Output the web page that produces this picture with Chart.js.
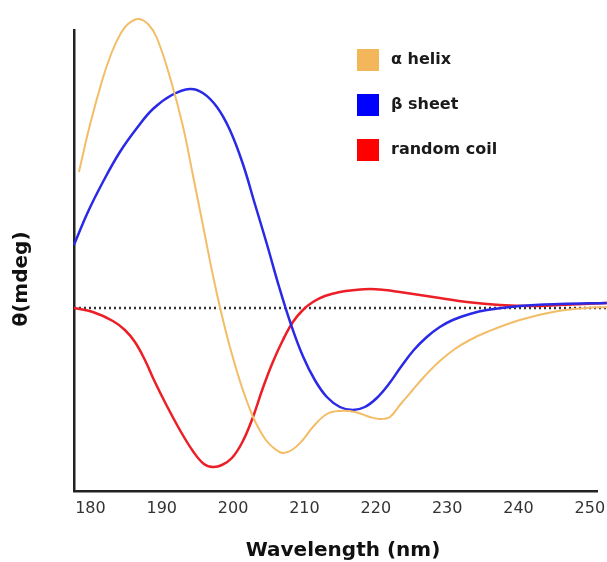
<!DOCTYPE html>
<html>
<head>
<meta charset="utf-8">
<script src="https://cdn.jsdelivr.net/npm/chart.js@4.4.1/dist/chart.umd.min.js"></script>
<style>
  html, body { margin: 0; padding: 0; background: #fff; }
  #contenedor { width: 607px; height: 562px; }
</style>
</head>
<body>
<div id="contenedor"><canvas id="cdChart"></canvas></div>
<script>
// espectros de dicroismo circular (unidades arbitrarias)
var nombres = ["α helix", "β sheet", "random coil"];
var ticksX = [180, 190, 200, 210, 220, 230, 240, 250];

var helixNm = [178.39, 179.93, 181.75, 183.01, 184.13, 185.26, 186.80, 188.20, 189.32, 191.14, 192.96, 194.36, 195.76, 197.16, 198.28, 199.55, 200.95, 202.07, 203.19, 204.59, 205.86, 206.98, 208.24, 209.64, 211.18, 213.14, 214.96, 217.07, 219.17, 220.57, 221.97, 223.37, 225.05, 226.87, 228.97, 231.08, 233.18, 235.56, 240.18, 244.81, 249.57, 252.38];
var helixTheta = [13.6, 18.3, 23.0, 25.6, 27.3, 28.4, 28.9, 28.3, 27.0, 23.1, 18.2, 13.3, 8.3, 3.3, -0.3, -3.9, -7.3, -9.6, -11.5, -13.2, -14.1, -14.5, -14.2, -13.3, -11.9, -10.6, -10.3, -10.4, -10.9, -11.1, -10.9, -9.7, -8.3, -6.8, -5.3, -4.1, -3.2, -2.4, -1.2, -0.4, 0.0, 0.1];

var sheetNm = [177.69, 179.65, 181.75, 184.13, 186.52, 188.76, 191.42, 193.94, 195.76, 197.73, 199.55, 201.37, 203.05, 204.73, 206.41, 208.09, 209.77, 211.45, 213.14, 214.96, 216.78, 218.46, 220.14, 221.83, 223.51, 225.33, 227.15, 228.97, 230.79, 233.18, 235.56, 240.18, 245.79, 252.38];
var sheetTheta = [6.3, 9.6, 12.6, 15.6, 18.0, 19.9, 21.3, 21.9, 21.5, 20.1, 17.8, 14.4, 10.4, 6.4, 2.2, -1.6, -4.8, -7.2, -8.9, -9.9, -10.2, -9.9, -9.0, -7.6, -5.9, -4.2, -2.9, -1.9, -1.2, -0.6, -0.2, 0.2, 0.4, 0.5];

var coilNm = [177.69, 180.35, 183.15, 184.83, 186.24, 187.64, 189.04, 190.72, 192.54, 194.36, 195.91, 197.17, 198.43, 199.83, 201.23, 202.63, 204.17, 205.57, 206.98, 208.38, 209.78, 211.18, 212.86, 214.96, 217.07, 219.17, 221.27, 223.37, 226.17, 228.97, 232.76, 237.38, 242.01, 245.79, 252.38];
var coilTheta = [0.0, -0.4, -1.3, -2.2, -3.4, -5.2, -7.4, -9.8, -12.2, -14.3, -15.6, -15.9, -15.7, -15.0, -13.5, -11.2, -8.0, -5.4, -3.2, -1.4, -0.2, 0.6, 1.2, 1.6, 1.8, 1.9, 1.8, 1.6, 1.3, 1.0, 0.6, 0.3, 0.2, 0.3, 0.5];

var ceroNm = [177.7, 252.4];
var ceroTheta = [0, 0];

var coloresLinea = ["#F3BD68", "#2A2AE6", "#EC1E26"];
var coloresCaja = ["#F3B65B", "#0000FF", "#FF0000"];

function puntos(xs, ys) {
    return xs.map(function(x, i) { return { x: x, y: ys[i] }; });
}

var series = [
    { label: nombres[0], data: puntos(helixNm, helixTheta), borderColor: coloresLinea[0], borderWidth: 2, tension: 0.4 },
    { label: nombres[1], data: puntos(sheetNm, sheetTheta), borderColor: coloresLinea[1], borderWidth: 2.5, tension: 0.4 },
    { label: nombres[2], data: puntos(coilNm, coilTheta), borderColor: coloresLinea[2], borderWidth: 2.5, tension: 0.4 },
    { label: "cero", data: puntos(ceroNm, ceroTheta), borderColor: "#333", borderWidth: 2.5, borderDash: [2, 3], tension: 0 }
];
series.forEach(function(s) {
    s.pointRadius = 0;
    s.fill = false;
    s.clip = false;
});

// leyenda dentro del area del grafico
var leyendaPlugin = {
    id: "leyenda",
    afterDatasetsDraw: function(chart) {
        var ctx = chart.ctx;
        ctx.save();
        ctx.font = "bold 16px 'DejaVu Sans'";
        ctx.textBaseline = "middle";
        for (var i = 0; i < 3; i++) {
            var y = 60 + i * 45;
            ctx.fillStyle = coloresCaja[i];
            ctx.fillRect(357, y - 11, 22, 22);
            ctx.fillStyle = "#1a1a1a";
            ctx.fillText(chart.data.datasets[i].label, 391, y);
        }
        ctx.restore();
    }
};

var titulosPlugin = {
    id: "titulos",
    afterDraw: function(chart) {
        var ctx = chart.ctx;
        ctx.save();
        ctx.fillStyle = "#111";
        ctx.font = "bold 20px 'DejaVu Sans'";
        ctx.textAlign = "center";
        ctx.textBaseline = "middle";
        ctx.fillText("Wavelength (nm)", 343, 551);
        ctx.translate(22, 279);
        ctx.rotate(-Math.PI / 2);
        ctx.fillText("θ(mdeg)", 0, 0);
        ctx.restore();
    }
};

var ctxCD = document.getElementById("cdChart").getContext("2d");
new Chart(ctxCD, {
    type: "line",
    data: { datasets: series },
    options: {
        responsive: true,
        maintainAspectRatio: false,
        animation: false,
        layout: { padding: { left: 74, top: 30, right: 10, bottom: 0 } },
        plugins: { legend: { display: false }, tooltip: { enabled: false } },
        scales: {
            x: {
                type: "linear",
                min: 177.7,
                max: 251.0,
                afterBuildTicks: function(scale) {
                    scale.ticks = ticksX.map(function(v) { return { value: v }; });
                },
                afterFit: function(scale) {
                    scale.height = 71;
                    scale.paddingLeft = 0;
                    scale.paddingRight = 0;
                },
                grid: { display: false, drawTicks: false },
                border: { display: true, color: "#222", width: 2.5 },
                ticks: { color: "#333", padding: 8, font: { family: "'DejaVu Sans'", size: 16 }, maxRotation: 0 }
            },
            y: {
                type: "linear",
                min: -18.3,
                max: 27.8,
                afterFit: function(scale) { scale.width = 0; },
                grid: { display: false, drawTicks: false },
                border: { display: true, color: "#222", width: 2.5 },
                ticks: { display: false }
            }
        }
    },
    plugins: [leyendaPlugin, titulosPlugin]
});
</script>
</body>
</html>
